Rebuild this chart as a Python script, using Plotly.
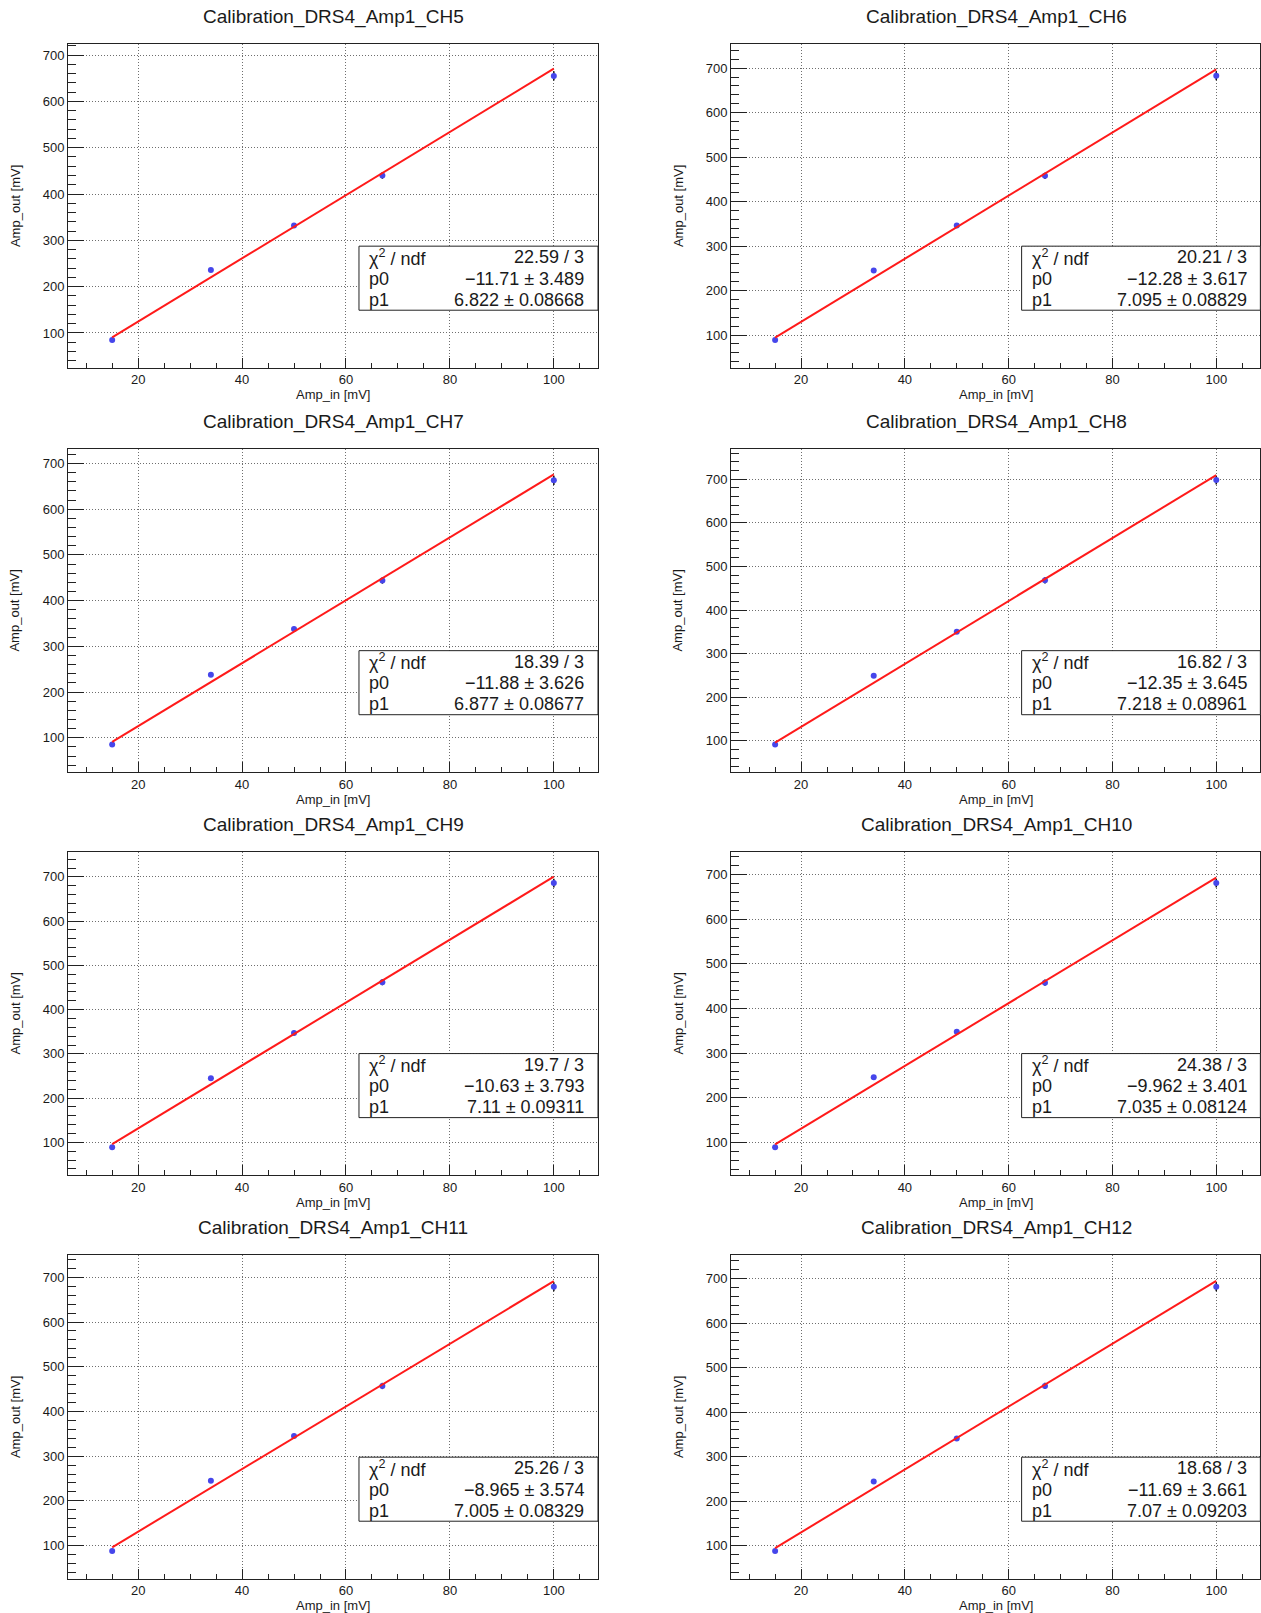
import numpy as np
import plotly.graph_objects as go

# ---- data -------------------------------------------------------------
channels = ["CH5", "CH6", "CH7", "CH8", "CH9", "CH10", "CH11", "CH12"]
amp_in = [15, 34, 50, 67, 100]
amp_out_err = [2, 3, 5, 7, 10]

amp_out_ch5 = [85, 236, 332, 440, 655]
amp_out_ch6 = [89, 245, 346, 458, 683]
amp_out_ch7 = [85.5, 238, 338, 444, 663]
amp_out_ch8 = [91.5, 249, 350, 468, 698]
amp_out_ch9 = [88.7, 245, 347, 462, 686]
amp_out_ch10 = [89, 246, 348, 458, 681]
amp_out_ch11 = [88, 245, 345, 457, 679]
amp_out_ch12 = [88, 244, 341, 459, 682]
amp_out = [amp_out_ch5, amp_out_ch6, amp_out_ch7, amp_out_ch8,
           amp_out_ch9, amp_out_ch10, amp_out_ch11, amp_out_ch12]

# linear fit results: out = p0 + p1 * in
chi2 = [22.59, 20.21, 18.39, 16.82, 19.7, 24.38, 25.26, 18.68]
ndf = [3, 3, 3, 3, 3, 3, 3, 3]
p0 = [-11.71, -12.28, -11.88, -12.35, -10.63, -9.962, -8.965, -11.69]
p0_err = [3.489, 3.617, 3.626, 3.645, 3.793, 3.401, 3.574, 3.661]
p1 = [6.822, 7.095, 6.877, 7.218, 7.11, 7.035, 7.005, 7.07]
p1_err = [0.08668, 0.08829, 0.08677, 0.08961, 0.09311, 0.08124, 0.08329, 0.09203]

x_ticks = [20, 40, 60, 80, 100]
y_ticks = [100, 200, 300, 400, 500, 600, 700]

# ---- canvas geometry (pixels) -------------------------------------------
W, H = 1261, 1613
col_left = [68, 731]
frame_w = 530
row_top = [44.3, 448.8, 851.7, 1255.3]
frame_h = 323.5

FONT = "Liberation Sans, Arial, Helvetica, sans-serif"
TXT = "#1a1a1a"


def g(v):
    return ("%.4g" % v).replace("-", "\u2212")


def auto_range(lo, hi):
    d = 0.1 * (hi - lo)
    return [lo - d, hi + d]


fig = go.Figure()
annotations = []
shapes = []

for i, ch in enumerate(channels):
    r, c = divmod(i, 2)
    n = i + 1
    xa = "x" if n == 1 else f"x{n}"
    ya = "y" if n == 1 else f"y{n}"
    xkey = "xaxis" if n == 1 else f"xaxis{n}"
    ykey = "yaxis" if n == 1 else f"yaxis{n}"

    x0 = col_left[c]
    x1 = x0 + frame_w
    t = row_top[r]
    b = t + frame_h

    ys = amp_out[i]
    lo = min(v - e for v, e in zip(ys, amp_out_err))
    hi = max(v + e for v, e in zip(ys, amp_out_err))
    yr = auto_range(lo, hi)
    xr = auto_range(min(amp_in), max(amp_in))

    # measured points
    fig.add_trace(go.Scatter(
        x=amp_in, y=ys, mode="markers", xaxis=xa, yaxis=ya,
        marker=dict(color="rgb(70,70,235)", size=6),
        error_y=dict(type="data", array=amp_out_err, color="#111111",
                     thickness=1.5, width=0),
        showlegend=False, hoverinfo="x+y"))

    # fitted line
    xf = np.array([min(amp_in), max(amp_in)], dtype=float)
    fig.add_trace(go.Scatter(
        x=xf, y=p0[i] + p1[i] * xf, mode="lines", xaxis=xa, yaxis=ya,
        line=dict(color="#ff1a1a", width=2),
        showlegend=False, hoverinfo="skip"))

    common = dict(
        showline=True, mirror=True, linecolor="#222222", linewidth=1,
        showgrid=True, griddash="1px,2px", gridcolor="#6e6e6e", gridwidth=1,
        zeroline=False, ticks="inside", tickcolor="#222222",
        tickfont=dict(family=FONT, size=13, color=TXT),
    )
    fig.layout[xkey] = dict(
        common, domain=[x0 / W, min(x1 / W, 0.9995)], range=xr,
        anchor=ya, tickvals=x_ticks, ticklen=10, tickwidth=1,
        minor=dict(ticks="inside", ticklen=5, dtick=5, tick0=0,
                   tickcolor="#222222", showgrid=False),
    )
    fig.layout[ykey] = dict(
        common, domain=[1 - b / H, 1 - t / H], range=yr,
        anchor=xa, tickvals=y_ticks, ticklen=16, tickwidth=1,
        minor=dict(ticks="inside", ticklen=8, dtick=20, tick0=0,
                   tickcolor="#222222", showgrid=False),
    )

    # titles
    annotations.append(dict(
        text=f"Calibration_DRS4_Amp1_{ch}", xref="paper", yref="paper",
        x=(x0 + x1) / 2 / W, y=1 - (t - 27) / H, showarrow=False,
        xanchor="center", yanchor="middle",
        font=dict(family=FONT, size=19, color=TXT)))
    annotations.append(dict(
        text="Amp_in [mV]", xref="paper", yref="paper",
        x=(x0 + x1) / 2 / W, y=1 - (b + 27) / H, showarrow=False,
        xanchor="center", yanchor="middle",
        font=dict(family=FONT, size=13, color=TXT)))
    annotations.append(dict(
        text="Amp_out [mV]", xref="paper", yref="paper",
        x=(x0 - 53) / W, y=1 - (t + b) / 2 / H, showarrow=False,
        textangle=-90, xanchor="center", yanchor="middle",
        font=dict(family=FONT, size=13, color=TXT)))

    # fit statistics box
    shapes.append(dict(
        type="rect", xref=f"{xa} domain", yref=f"{ya} domain",
        x0=0.549, x1=1.0, y0=0.178, y1=0.376,
        line=dict(color="#222222", width=1), fillcolor="white",
        layer="above"))
    rows = [
        ("\u03c7<sup>2</sup> / ndf", f"{g(chi2[i])} / {ndf[i]}"),
        ("p0", f"{g(p0[i])} \u00b1 {g(p0_err[i])}"),
        ("p1", f"{g(p1[i])} \u00b1 {g(p1_err[i])}"),
    ]
    for k, (lab, val) in enumerate(rows):
        yy = 1 - (11 + 21.3 * k + 202) / frame_h
        annotations.append(dict(
            text=lab, xref=f"{xa} domain", yref=f"{ya} domain",
            x=0.564, y=yy, xanchor="left", yanchor="middle",
            showarrow=False, font=dict(family=FONT, size=18, color=TXT)))
        annotations.append(dict(
            text=val, xref=f"{xa} domain", yref=f"{ya} domain",
            x=0.978, y=yy, xanchor="right", yanchor="middle",
            showarrow=False, font=dict(family=FONT, size=18, color=TXT)))

fig.update_layout(
    width=W, height=H, margin=dict(l=0, r=0, t=0, b=0),
    paper_bgcolor="white", plot_bgcolor="white",
    annotations=annotations, shapes=shapes,
)

fig.write_html("out.html")
